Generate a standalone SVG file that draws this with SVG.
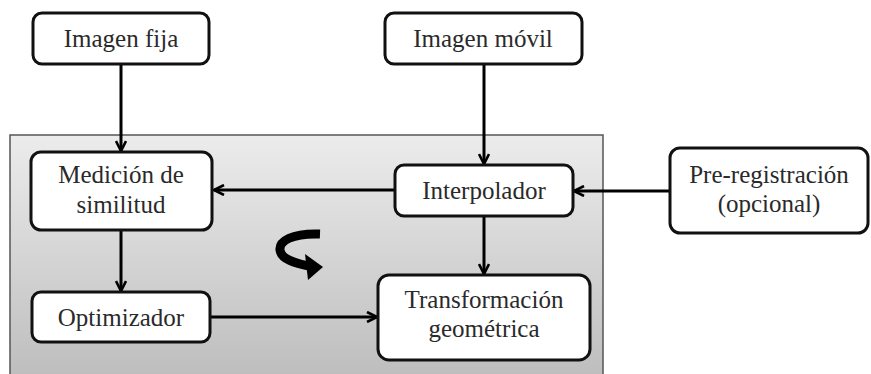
<svg xmlns="http://www.w3.org/2000/svg" width="871" height="374" viewBox="0 0 871 374">
<defs>
<linearGradient id="bg" x1="0" y1="0" x2="0" y2="1">
<stop offset="0" stop-color="#ececec"/>
<stop offset="1" stop-color="#bdbdbd"/>
</linearGradient>
<marker id="ah" viewBox="0 0 12 12" refX="11" refY="6" markerWidth="12" markerHeight="12" markerUnits="userSpaceOnUse" orient="auto">
<path d="M1,1 L11,6 L1,11" fill="none" stroke="#000" stroke-width="2.6" stroke-linejoin="miter"/>
</marker>
<style>
.box{fill:#fff;stroke:#111;stroke-width:3}
.c{fill:none;stroke:#000;stroke-width:3;marker-end:url(#ah)}
</style>
</defs>
<rect width="871" height="374" fill="#fff"/>
<g id="container">
<rect x="10" y="135" width="593" height="245" fill="url(#bg)" stroke="#555" stroke-width="1.5"/>
</g>
<g id="connectors">
<line class="c" x1="121" y1="65" x2="121" y2="151"/>
<line class="c" x1="484" y1="65" x2="484" y2="164"/>
<line class="c" x1="395" y1="190" x2="214" y2="190"/>
<line class="c" x1="670" y1="191" x2="574" y2="191"/>
<line class="c" x1="121" y1="231" x2="121" y2="291"/>
<line class="c" x1="484" y1="217" x2="484" y2="274"/>
<line class="c" x1="211" y1="317" x2="377" y2="317"/>
</g>
<g id="n-imagen-fija">
<rect class="box" x="33" y="13" width="176" height="51" rx="9"/>
<text font-family="Liberation Serif" font-size="25" fill="#2a2a2a" text-anchor="middle" x="121" y="47">Imagen fija</text>
</g>
<g id="n-imagen-movil">
<rect class="box" x="385" y="13" width="197" height="51" rx="9"/>
<text font-family="Liberation Serif" font-size="25" fill="#2a2a2a" text-anchor="middle" x="483" y="47">Imagen móvil</text>
</g>
<g id="n-medicion">
<rect class="box" x="31" y="152" width="181" height="78" rx="10"/>
<text font-family="Liberation Serif" font-size="25" fill="#2a2a2a" text-anchor="middle" x="121" y="183">Medición de</text>
<text font-family="Liberation Serif" font-size="25" fill="#2a2a2a" text-anchor="middle" x="121" y="213">similitud</text>
</g>
<g id="n-interpolador">
<rect class="box" x="395" y="165" width="178" height="51" rx="9"/>
<text font-family="Liberation Serif" font-size="25" fill="#2a2a2a" text-anchor="middle" x="484" y="199">Interpolador</text>
</g>
<g id="n-preregistracion">
<rect class="box" x="670" y="148" width="198" height="85" rx="10"/>
<text font-family="Liberation Serif" font-size="25" fill="#2a2a2a" text-anchor="middle" x="769" y="183">Pre-registración</text>
<text font-family="Liberation Serif" font-size="25" fill="#2a2a2a" text-anchor="middle" x="769" y="212">(opcional)</text>
</g>
<g id="n-optimizador">
<rect class="box" x="32" y="292" width="178" height="50" rx="9"/>
<text font-family="Liberation Serif" font-size="25" fill="#2a2a2a" text-anchor="middle" x="121" y="326">Optimizador</text>
</g>
<g id="n-transformacion">
<rect class="box" x="378" y="275" width="212" height="85" rx="11"/>
<text font-family="Liberation Serif" font-size="25" fill="#2a2a2a" text-anchor="middle" x="484" y="308">Transformación</text>
<text font-family="Liberation Serif" font-size="25" fill="#2a2a2a" text-anchor="middle" x="484" y="337">geométrica</text>
</g>
<g id="loop-icon">
<path d="M320 234 C292 233 279 241 280 250 C281 259 294 263 309 266" fill="none" stroke="#000" stroke-width="9" stroke-linecap="butt"/>
<polygon points="305,254 323,267 308,280" fill="#000"/>
</g>
</svg>
